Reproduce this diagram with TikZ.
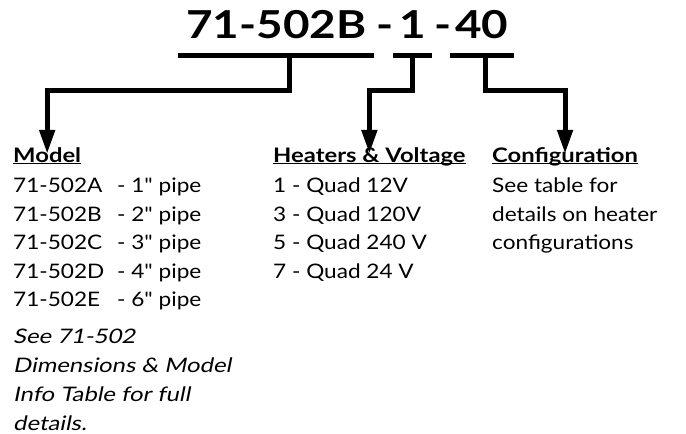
\documentclass[tikz,border=0pt]{standalone}
\usepackage{fontspec}
\setmainfont{Lato}[FakeStretch=1.13, Ligatures=TeXOff, BoldFeatures={FakeStretch=1.19}]
\newfontfamily\slantfont{Lato}[FakeStretch=1.19, FakeSlant=0.2, Ligatures=TeXOff]
\usetikzlibrary{arrows.meta, positioning}
\newcommand\hdline[1]{\underline{\smash{#1}}}

\begin{document}
\begin{tikzpicture}[
    x=1pt, y=-1pt,
    part/.style={font=\fontsize{38.5}{40}\selectfont\bfseries, inner sep=0pt, anchor=base west},
    bar/.style={line width=5pt},
    conn/.style={line width=5pt, -{Triangle[length=24pt,width=15pt]}},
    head/.style={font=\fontsize{20}{20}\selectfont\bfseries, anchor=base west,
      inner xsep=0pt, inner ysep=8pt},
    item/.style={font=\fontsize{20}{20}\selectfont, anchor=base west, inner sep=0pt},
    note/.style={font=\fontsize{20}{20}\slantfont, anchor=base west, inner sep=0pt}
]
\useasboundingbox (0,0) rectangle (686,434);

% part number
\node[part] (base no) at (186,38) {71-502B};
\node[part] (dash1) at (376,38) {-};
\node[part] (heat no) at (399,38) {1};
\node[part] (dash2) at (434,38) {-};
\node[part] (conf no) at (455,38) {40};

\draw[bar] ([xshift=-8pt, yshift=-17pt]base no.base west) -- ([xshift=7pt, yshift=-17pt]base no.base east);
\draw[bar] ([xshift=-6pt, yshift=-17pt]heat no.base west) -- ([xshift=6pt, yshift=-17pt]heat no.base east);
\draw[bar] ([xshift=-5pt, yshift=-17pt]conf no.base west) -- ([xshift=5pt, yshift=-17pt]conf no.base east);

% headings
\node[head] (model) at (13,162) {\hdline{Model}};
\node[head] (heaters) at (273,162) {\hdline{Heaters \& Voltage}};
\node[head] (config) at (492,162) {\hdline{Configuration}};

\draw[conn] ([xshift=13pt, yshift=-17pt]base no.base) -- ++(0,35) -| (model.north);
\draw[conn] ([yshift=-17pt]heat no.base) -- ++(0,35) -| (heaters.north);
\draw[conn] ([xshift=4pt, yshift=-17pt]conf no.base) -- ++(0,35) -| (config.north);

% model list
\foreach \m/\p [count=\i] in {A/1, B/2, C/3, D/4, E/6} {
  \node[item] (model\i) at (13,164+28.5*\i) {71-502\m};
  \node[item] (pipe\i) at (117,164+28.5*\i) {- \p" pipe};
}
\foreach \t [count=\i] in {See 71-502, Dimensions \& Model, Info Table for full, details.}
  \node[note] (info\i) at (13,314+29*\i) {\t};

% heater list
\foreach \t [count=\i] in {1 - Quad 12V, 3 - Quad 120V, 5 - Quad 240 V, 7 - Quad 24 V}
  \node[item] (heat\i) at (273,164+28.5*\i) {\t};

% configuration note
\foreach \t [count=\i] in {See table for, details on heater, configurations}
  \node[item] (conf\i) at (492,164+28.5*\i) {\t};
\end{tikzpicture}
\end{document}
